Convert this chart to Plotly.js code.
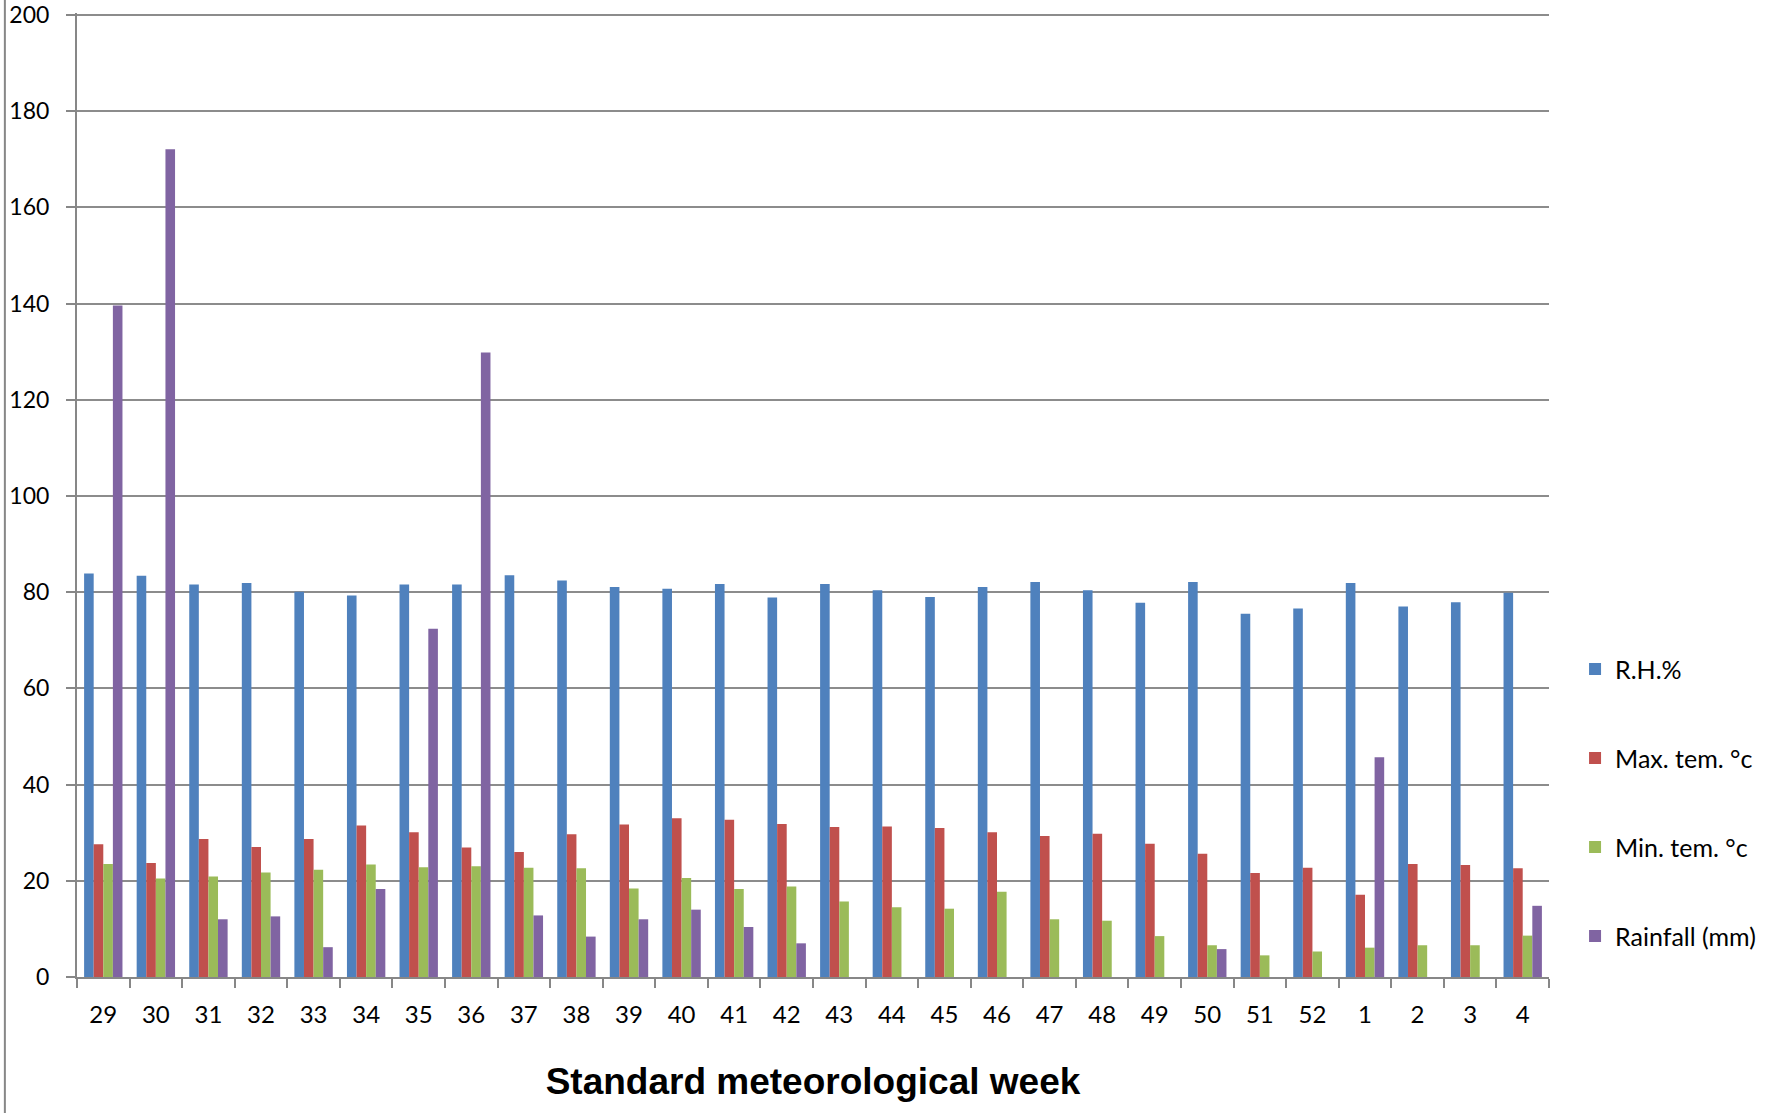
<!DOCTYPE html>
<html>
<head>
<meta charset="utf-8">
<script src="https://cdn.plot.ly/plotly-3.0.1.min.js"></script>
<style>html,body{margin:0;padding:0;background:#fff;}#chart{width:1775px;height:1113px;}</style>
</head>
<body>
<div id="chart"></div>
<script>
const weeks = ["29","30","31","32","33","34","35","36","37","38","39","40","41","42","43","44","45","46","47","48","49","50","51","52","1","2","3","4"];
const rh      = [83.9,83.4,81.6,81.9,80.1,79.3,81.6,81.6,83.5,82.4,81.1,80.7,81.7,78.9,81.7,80.4,79.0,81.1,82.1,80.4,77.8,82.1,75.5,76.6,81.9,77.0,77.9,79.9];
const maxTemp = [27.6,23.7,28.7,27.0,28.7,31.5,30.1,26.9,26.0,29.7,31.7,33.0,32.7,31.8,31.2,31.3,31.0,30.1,29.3,29.8,27.7,25.6,21.6,22.7,17.1,23.5,23.3,22.6];
const minTemp = [23.5,20.5,20.9,21.7,22.3,23.4,22.8,23.0,22.7,22.6,18.4,20.6,18.3,18.8,15.7,14.5,14.2,17.7,12.0,11.7,8.5,6.6,4.5,5.3,6.1,6.6,6.6,8.6];
const rainfall= [139.6,172.1,12.0,12.6,6.2,18.3,72.4,129.8,12.8,8.4,12.0,14.0,10.4,7.0,0,0,0,0,0,0,0,5.8,0,0,45.7,0,0,14.8];
const yTicks  = [0,20,40,60,80,100,120,140,160,180,200];

const names  = ["R.H.%","Max. tem. °c","Min. tem. °c","Rainfall (mm)"];
const series = [rh, maxTemp, minTemp, rainfall];
const colors = ["#4F81BD","#C0504D","#9BBB59","#8064A2"];

const traces = series.map((vals, i) => ({
  type: "bar",
  name: names[i],
  x: weeks,
  y: vals,
  legendgroup: "g" + i,
  marker: {color: colors[i], line: {width: 0}},
  hoverinfo: "x+y+name"
}));

const font = "Lato, 'Open Sans', 'Liberation Sans', sans-serif";

const layout = {
  width: 1775,
  height: 1113,
  paper_bgcolor: "#ffffff",
  plot_bgcolor: "#ffffff",
  margin: {l: 77, r: 226, t: 13, b: 136},
  barmode: "group",
  bargap: 0.27,
  bargroupgap: 0,
  font: {family: font, size: 23, color: "#000000"},
  xaxis: {
    type: "category",
    tickson: "boundaries",
    ticks: "outside",
    ticklen: 9,
    tickwidth: 2,
    tickcolor: "#878787",
    showline: true,
    linecolor: "#878787",
    linewidth: 2,
    showgrid: false,
    zeroline: false,
    tickfont: {family: font, size: 24, color: "#000"},
    ticklabelstandoff: 15,
    automargin: false,
    title: {
      text: "<b>Standard meteorological week</b>",
      font: {family: "'Liberation Sans', Arial, sans-serif", size: 37, color: "#000"},
      standoff: 41
    }
  },
  yaxis: {
    range: [0, 200.4],
    tickmode: "array",
    tickvals: yTicks,
    ticktext: yTicks.map(String),
    ticklabeloverflow: "allow",
    ticks: "outside",
    ticklen: 9,
    tickwidth: 2,
    tickcolor: "#878787",
    showline: true,
    linecolor: "#878787",
    linewidth: 2,
    showgrid: true,
    gridcolor: "#8c8c8c",
    gridwidth: 2,
    zeroline: false,
    tickfont: {family: font, size: 23, color: "#000"},
    ticklabelstandoff: 12,
    automargin: false
  },
  showlegend: true,
  legend: {
    x: 1.0177,
    xanchor: "left",
    y: 0.343,
    yanchor: "top",
    traceorder: "grouped",
    tracegroupgap: 53.5,
    font: {family: font, size: 25, color: "#000"},
    bgcolor: "rgba(0,0,0,0)",
    borderwidth: 0
  },
  shapes: [{
    type: "line",
    xref: "paper", yref: "paper",
    x0: -0.049, x1: -0.049,
    y0: -0.15, y1: 1.05,
    line: {color: "#878787", width: 2}
  }]
};

Plotly.newPlot("chart", traces, layout, {displayModeBar: false, responsive: false});
</script>
</body>
</html>
